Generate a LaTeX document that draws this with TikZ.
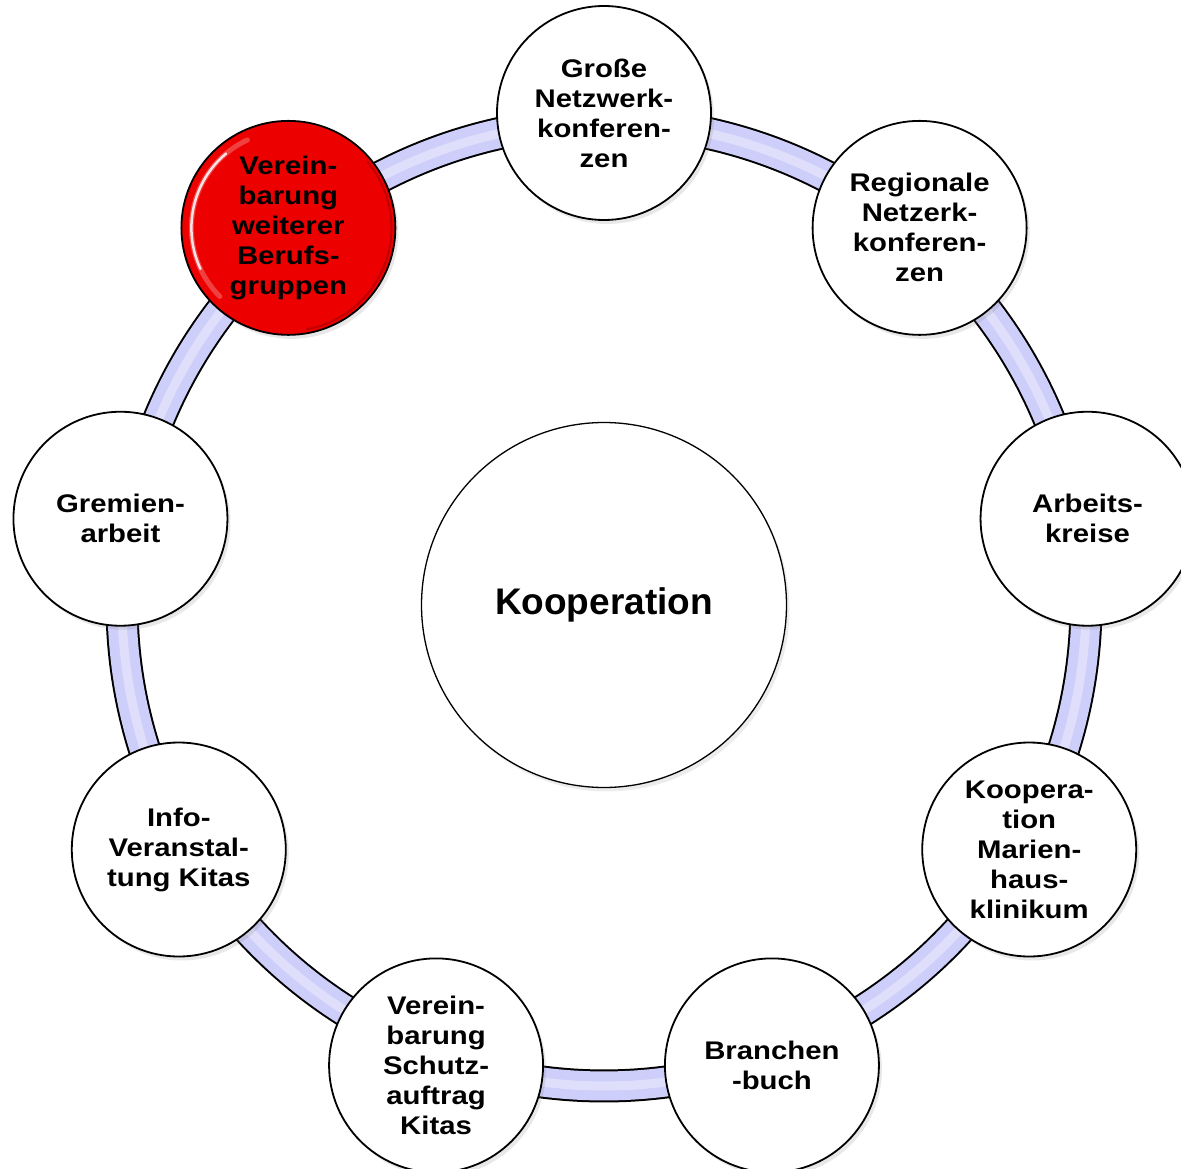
\documentclass[tikz,border=0pt]{standalone}
\usepackage{fontspec}
\setmainfont{Liberation Sans}
\newfontfamily\itemfont[FakeStretch=1.15]{Liberation Sans}
\usetikzlibrary{shadows,calc,backgrounds}
\definecolor{ringfill}{RGB}{206,206,250}
\definecolor{ballred}{RGB}{236,0,0}
\definecolor{rimred}{RGB}{150,0,0}
\tikzset{
  item/.style={circle, draw=black, line width=1.8pt, fill=white,
    minimum size=214pt, inner sep=0pt, align=center,
    font=\itemfont\bfseries\fontsize{25.5}{30}\selectfont,
    drop shadow={shadow xshift=3pt, shadow yshift=-4pt, opacity=0.18}},
  hub/.style={circle, draw=black, line width=1.3pt, fill=white,
    minimum size=365pt, inner sep=0pt, align=center,
    font=\bfseries\fontsize{37}{44}\selectfont,
    drop shadow={shadow xshift=3pt, shadow yshift=-4pt, opacity=0.15}},
  bandout/.style={line width=33pt, draw=black, looseness=0.88},
  bandin/.style={line width=29pt, draw=ringfill, looseness=0.88},
  bandglow/.style={line width=9pt, draw=white, opacity=0.35, looseness=0.88},
  gloss/.style={draw=white, line cap=round},
}
\begin{document}
\begin{tikzpicture}[x=1pt,y=1pt]
\useasboundingbox (0,0) rectangle (1181,-1169);
\coordinate (c) at (604,-604);

\node[hub] (hub) at (604,-605) {Kooperation};

\node[item] (n1) at ([shift={(90:491)}]c) {Große\\Netzwerk-\\konferen-\\zen};
\node[item] (n2) at ([shift={(50:491)}]c) {Regionale\\Netzerk-\\konferen-\\zen};
\node[item] (n3) at ([shift={(10:491)}]c) {Arbeits-\\kreise};
\node[item] (n4) at ([shift={(-30:491)}]c) {Koopera-\\tion\\Marien-\\haus-\\klinikum};
\node[item] (n5) at ([shift={(-70:491)}]c) {Branchen\\-buch};
\node[item] (n6) at ([shift={(-110:491)}]c) {Verein-\\barung\\Schutz-\\auftrag\\Kitas};
\node[item] (n7) at ([shift={(-150:491)}]c) {Info-\\Veranstal-\\tung Kitas};
\node[item] (n8) at ([shift={(170:491)}]c) {Gremien-\\arbeit};
\node[item, fill=ballred] (n9) at ([shift={(130:491)}]c) {Verein-\\barung\\weiterer\\Berufs-\\gruppen};

% glossy highlight on the red ball
\draw[gloss, line width=5pt, opacity=0.25] ($(n9.center)+(115:97)$) arc (115:225:97);
\draw[gloss, line width=2.5pt, opacity=0.85] ($(n9.center)+(130:97)$) arc (130:205:97);
\draw[draw=rimred, line width=2pt, opacity=0.5] ($(n9.center)+(-80:103)$) arc (-80:40:103);

\begin{scope}[on background layer]
  \foreach \a/\b in {n1/n2,n2/n3,n3/n4,n4/n5,n5/n6,n6/n7,n7/n8,n8/n9,n9/n1}{
    \draw[bandout] ($(\a.center)!9pt!(c)$) to[bend left=20] ($(\b.center)!9pt!(c)$);
  }
  \foreach \a/\b in {n1/n2,n2/n3,n3/n4,n4/n5,n5/n6,n6/n7,n7/n8,n8/n9,n9/n1}{
    \draw[bandin] ($(\a.center)!9pt!(c)$) to[bend left=20] ($(\b.center)!9pt!(c)$);
    \draw[bandglow] ($(\a.center)!9pt!(c)$) to[bend left=20] ($(\b.center)!9pt!(c)$);
  }
\end{scope}
\end{tikzpicture}
\end{document}
